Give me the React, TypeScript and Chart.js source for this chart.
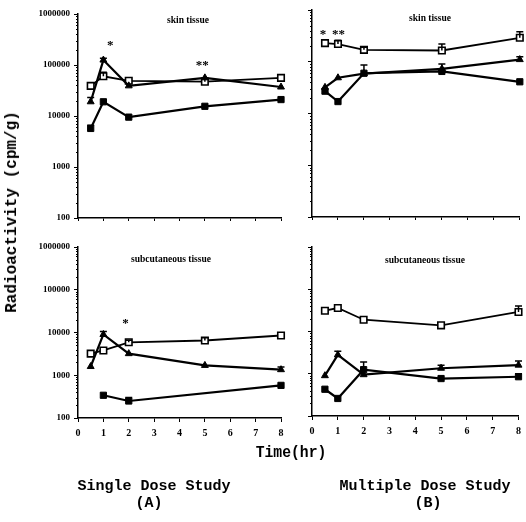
import React, { useEffect, useRef } from 'react';
import { Chart, registerables } from 'chart.js';

Chart.register(...registerables);

// ---------- data ----------
const times = [0.5, 1, 2, 5, 8];
const xTickValues = [0, 1, 2, 3, 4, 5, 6, 7, 8];
const yTickValues = [100, 1000, 10000, 100000, 1000000];

// Single dose, skin tissue (A, top)
const singleSkinOpen = [39000, 60000, 49000, 47000, 56000];
const singleSkinTri = [19000, 125000, 39000, 56000, 37000];
const singleSkinSq = [5700, 19000, 9500, 15500, 21000];
const singleSkinOpenErr = [null, 72000, null, 55000, null];
const singleSkinTriErr = [23000, 135000, null, null, null];
const singleSkinSqErr = [6600, null, null, null, null];
const singleSkinStars = [
  { x: 1.27, y: 280000, t: '*' },
  { x: 4.9, y: 110000, t: '**' },
];

// Multiple dose, skin tissue (B, top)
const multiSkinOpen = [229000, 220000, 170000, 165000, 290000];
const multiSkinTri = [32000, 49000, 59000, 73000, 110000];
const multiSkinSq = [27000, 17000, 60000, 65000, 41000];
const multiSkinOpenErr = [null, 260000, 190000, 220000, 380000];
const multiSkinTriErr = [null, null, null, 90000, 125000];
const multiSkinSqErr = [null, null, 87000, null, null];
const multiSkinStars = [
  { x: 0.42, y: 380000, t: '*' },
  { x: 1.02, y: 380000, t: '**' },
];

// Single dose, subcutaneous tissue (A, bottom)
const singleSubOpen = [3200, 3800, 5900, 6500, 8500];
const singleSubTri = [1600, 9000, 3200, 1700, 1350];
const singleSubSq = [null, 340, 250, null, 580];
const singleSubOpenErr = [null, null, 6600, 7500, null];
const singleSubTriErr = [null, 10500, null, null, 1550];
const singleSubSqErr = [null, null, 300, null, null];
const singleSubStars = [{ x: 1.87, y: 19000, t: '*' }];

// Multiple dose, subcutaneous tissue (B, bottom)
const multiSubOpen = [31000, 36000, 19000, 14000, 29000];
const multiSubTri = [900, 2800, 950, 1350, 1600];
const multiSubSq = [430, 260, 1250, 770, 850];
const multiSubOpenErr = [null, null, null, null, 40000];
const multiSubTriErr = [null, 3400, null, 1600, 2000];
const multiSubSqErr = [null, null, 1900, null, 1000];
const multiSubStars: { x: number; y: number; t: string }[] = [];

// ---------- rendering ----------
type Series = { kind: 'open' | 'tri' | 'sq'; values: (number | null)[]; err: (number | null)[] };

type PanelDef = {
  canvas: { left: number; top: number; w: number; h: number };
  area: { l: number; t: number; r: number; b: number };
  showYLabels: boolean;
  showXLabels: boolean;
  series: Series[];
  stars: { x: number; y: number; t: string }[];
};

const panels: PanelDef[] = [
  {
    canvas: { left: 0, top: 0, w: 290, h: 235 },
    area: { l: 78, t: 14, r: 281, b: 218 },
    showYLabels: true,
    showXLabels: false,
    series: [
      { kind: 'sq', values: singleSkinSq, err: singleSkinSqErr },
      { kind: 'tri', values: singleSkinTri, err: singleSkinTriErr },
      { kind: 'open', values: singleSkinOpen, err: singleSkinOpenErr },
    ],
    stars: singleSkinStars,
  },
  {
    canvas: { left: 290, top: 0, w: 236, h: 235 },
    area: { l: 312, t: 10, r: 523, b: 217 },
    showYLabels: false,
    showXLabels: false,
    series: [
      { kind: 'sq', values: multiSkinSq, err: multiSkinSqErr },
      { kind: 'tri', values: multiSkinTri, err: multiSkinTriErr },
      { kind: 'open', values: multiSkinOpen, err: multiSkinOpenErr },
    ],
    stars: multiSkinStars,
  },
  {
    canvas: { left: 0, top: 235, w: 290, h: 215 },
    area: { l: 78, t: 247, r: 281, b: 418 },
    showYLabels: true,
    showXLabels: true,
    series: [
      { kind: 'sq', values: singleSubSq, err: singleSubSqErr },
      { kind: 'tri', values: singleSubTri, err: singleSubTriErr },
      { kind: 'open', values: singleSubOpen, err: singleSubOpenErr },
    ],
    stars: singleSubStars,
  },
  {
    canvas: { left: 290, top: 235, w: 236, h: 215 },
    area: { l: 312, t: 247, r: 523, b: 416 },
    showYLabels: false,
    showXLabels: true,
    series: [
      { kind: 'sq', values: multiSubSq, err: multiSubSqErr },
      { kind: 'tri', values: multiSubTri, err: multiSubTriErr },
      { kind: 'open', values: multiSubOpen, err: multiSubOpenErr },
    ],
    stars: multiSubStars,
  },
];

const extrasPlugin = {
  id: 'extras',
  afterDatasetsDraw(chart: any) {
    const { ctx, chartArea } = chart;
    const xs = chart.scales.x;
    const ys = chart.scales.y;
    const def: PanelDef = chart.options.plugins.extras.def;
    ctx.save();
    // minor ticks on log axis
    ctx.strokeStyle = '#000';
    ctx.lineWidth = 1;
    for (let k = 2; k < 6; k++) {
      for (let m = 2; m <= 9; m++) {
        const v = m * Math.pow(10, k);
        const py = Math.round(ys.getPixelForValue(v)) + 0.5;
        ctx.beginPath();
        ctx.moveTo(chartArea.left - 2, py);
        ctx.lineTo(chartArea.left, py);
        ctx.stroke();
      }
    }
    // error bars
    ctx.lineWidth = 1.5;
    def.series.forEach((s) => {
      s.err.forEach((e, j) => {
        const v = s.values[j];
        if (e == null || v == null) return;
        const px = xs.getPixelForValue(times[j]);
        const y0 = ys.getPixelForValue(v);
        const y1 = ys.getPixelForValue(e);
        ctx.beginPath();
        ctx.moveTo(px, y0);
        ctx.lineTo(px, y1);
        ctx.moveTo(px - 3.5, y1);
        ctx.lineTo(px + 3.5, y1);
        ctx.stroke();
      });
    });
    // significance marks
    ctx.fillStyle = '#000';
    ctx.font = 'bold 13px "Liberation Serif"';
    ctx.textAlign = 'center';
    ctx.textBaseline = 'middle';
    def.stars.forEach((st) => {
      const px = xs.getPixelForValue(st.x);
      const py = ys.getPixelForValue(st.y);
      ctx.fillText(st.t, px, py + 3);
    });
    ctx.restore();
  },
};

function styleFor(kind: Series['kind']) {
  if (kind === 'open') {
    return {
      pointStyle: 'rect',
      pointRadius: 4.6,
      pointBackgroundColor: '#fff',
      pointBorderColor: '#000',
      pointBorderWidth: 1.6,
      borderWidth: 1.8,
    };
  }
  if (kind === 'tri') {
    return {
      pointStyle: 'triangle',
      pointRadius: 4,
      pointBackgroundColor: '#000',
      pointBorderColor: '#000',
      pointBorderWidth: 1,
      borderWidth: 2.2,
    };
  }
  return {
    pointStyle: 'rect',
    pointRadius: 4.4,
    pointBackgroundColor: '#000',
    pointBorderColor: '#000',
    pointBorderWidth: 1,
    borderWidth: 2.2,
  };
}

function Panel({ def }: { def: PanelDef }) {
  const ref = useRef<HTMLCanvasElement>(null);
  useEffect(() => {
    const c = def.canvas;
    const a = def.area;
    const yWidth = a.l - c.left;
    const xHeight = c.top + c.h - a.b;
    const chart = new Chart(ref.current as HTMLCanvasElement, {
      type: 'line',
      data: {
        datasets: def.series.map((s) => ({
          data: times.map((t, j) => ({ x: t, y: s.values[j] as any })),
          borderColor: '#000',
          tension: 0,
          spanGaps: true,
          clip: false as any,
          ...(styleFor(s.kind) as any),
        })),
      },
      options: {
        animation: false,
        responsive: false,
        devicePixelRatio: 1,
        events: [],
        layout: {
          padding: { top: a.t - c.top, right: c.left + c.w - a.r, left: 0, bottom: 0 },
        },
        plugins: {
          legend: { display: false },
          tooltip: { enabled: false },
          title: { display: false },
          extras: { def } as any,
        } as any,
        scales: {
          x: {
            type: 'linear',
            min: 0,
            max: 8,
            afterBuildTicks: (scale: any) => {
              scale.ticks = xTickValues.map((v) => ({ value: v }));
            },
            afterFit: (scale: any) => {
              scale.height = xHeight;
            },
            grid: {
              display: true,
              drawOnChartArea: false,
              drawTicks: true,
              tickLength: def.showXLabels ? 4 : 3,
              color: '#000',
              lineWidth: 1,
            },
            border: { display: true, color: '#000', width: 1.5 },
            ticks: {
              display: def.showXLabels,
              color: '#000',
              padding: 5,
              maxRotation: 0,
              autoSkip: false,
              font: { family: '"Liberation Serif"', size: 10, weight: 'bold' },
            },
          },
          y: {
            type: 'logarithmic',
            min: 100,
            max: 1000000,
            afterBuildTicks: (scale: any) => {
              scale.ticks = yTickValues.map((v) => ({ value: v }));
            },
            afterFit: (scale: any) => {
              scale.width = yWidth;
            },
            grid: {
              display: true,
              drawOnChartArea: false,
              drawTicks: true,
              tickLength: 4,
              color: '#000',
              lineWidth: 1,
            },
            border: { display: true, color: '#000', width: 1.5 },
            ticks: {
              display: def.showYLabels,
              color: '#000',
              padding: 4,
              autoSkip: false,
              callback: (v: any) => String(v),
              font: { family: '"Liberation Serif"', size: 9, weight: 'bold' },
            },
          },
        },
      } as any,
      plugins: [extrasPlugin],
    });
    return () => chart.destroy();
  }, [def]);
  return (
    <canvas
      ref={ref}
      width={def.canvas.w}
      height={def.canvas.h}
      style={{
        position: 'absolute',
        left: def.canvas.left,
        top: def.canvas.top,
        width: def.canvas.w,
        height: def.canvas.h,
      }}
    />
  );
}

function Label({
  text,
  x,
  y,
  font,
  size,
  rotate,
  scaleX,
}: {
  text: string;
  x: number;
  y: number;
  font: string;
  size: number;
  rotate?: number;
  scaleX?: number;
}) {
  return (
    <div
      style={{
        position: 'absolute',
        left: x,
        top: y,
        transform: `translate(-50%, -50%)${rotate ? ` rotate(${rotate}deg)` : ''}${
          scaleX ? ` scaleX(${scaleX})` : ''
        }`,
        whiteSpace: 'nowrap',
        fontFamily: font,
        fontWeight: 'bold',
        fontSize: size,
        lineHeight: 1,
        color: '#000',
      }}
    >
      {text}
    </div>
  );
}

const serif = '"Liberation Serif", serif';
const mono = '"Liberation Mono", monospace';

export default function App() {
  return (
    <div
      style={{
        position: 'fixed',
        left: 0,
        top: 0,
        width: 526,
        height: 522,
        background: '#fff',
        overflow: 'hidden',
      }}
    >
      {panels.map((p, i) => (
        <Panel key={i} def={p} />
      ))}
      <Label text="skin tissue" x={188} y={21} font={serif} size={9.5} />
      <Label text="skin tissue" x={430} y={19} font={serif} size={9.5} />
      <Label text="subcutaneous tissue" x={171} y={260} font={serif} size={9.5} />
      <Label text="subcutaneous tissue" x={425} y={261} font={serif} size={9.5} />
      <Label text="Radioactivity (cpm/g)" x={12} y={212} font={mono} size={16} rotate={-90} />
      <Label text="Time(hr)" x={291} y={453} font={mono} size={16} scaleX={0.92} />
      <Label text="Single Dose Study" x={154} y={486} font={mono} size={15} />
      <Label text="(A)" x={149} y={503} font={mono} size={15} />
      <Label text="Multiple Dose Study" x={425} y={486} font={mono} size={15} />
      <Label text="(B)" x={428} y={503} font={mono} size={15} />
    </div>
  );
}
